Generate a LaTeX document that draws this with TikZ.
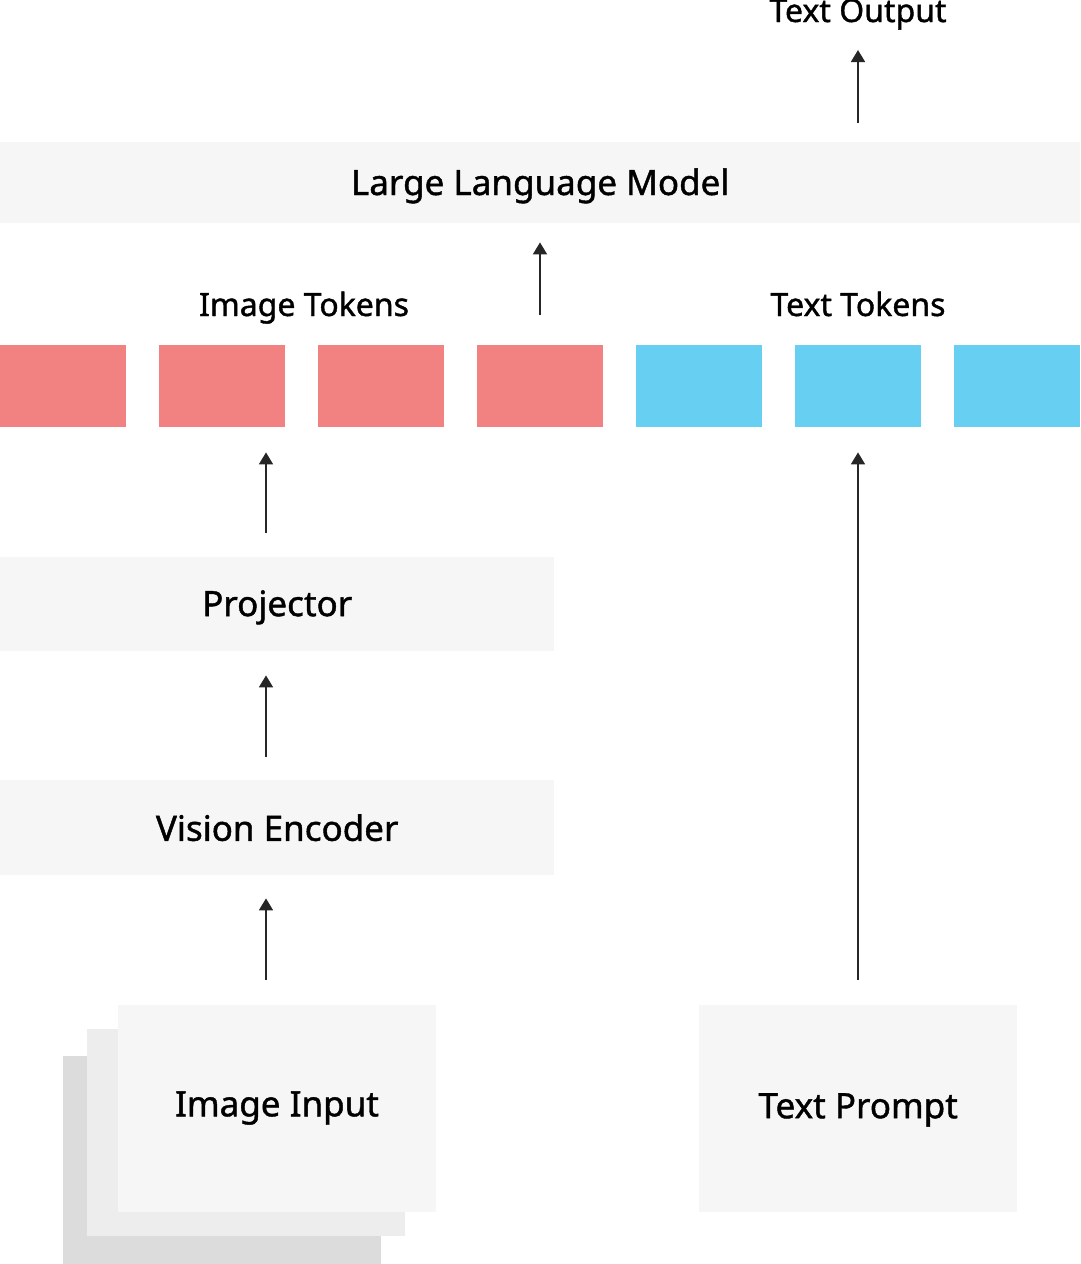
\documentclass[tikz,border=0pt]{standalone}
\usepackage{fontspec}
\setmainfont{Noto Sans}[RawFeature={embolden=1.2}]
\usetikzlibrary{arrows.meta}
\definecolor{boxgray}{HTML}{F6F6F6}
\definecolor{midgray}{HTML}{EDEDED}
\definecolor{backgray}{HTML}{DCDCDC}
\definecolor{tokred}{HTML}{F28181}
\definecolor{tokblue}{HTML}{66CFF2}
\tikzset{
  box/.style={fill=boxgray, draw=none, inner sep=0pt, anchor=north west, font=\fontsize{35}{40}\selectfont},
  lbl/.style={inner sep=0pt, anchor=base, font=\fontsize{32}{36}\selectfont},
  redtok/.style={fill=tokred, inner sep=0pt, anchor=north west, minimum width=126pt, minimum height=82pt},
  bluetok/.style={fill=tokblue, inner sep=0pt, anchor=north west, minimum width=126pt, minimum height=82pt},
  arr/.style={-{Triangle[length=12pt,width=14pt]}, line width=1.8pt, draw=black!85}
}
\begin{document}
\begin{tikzpicture}[x=1pt,y=-1pt]
\useasboundingbox (0,0) rectangle (1080,1264);
\fill[white] (0,0) rectangle (1080,1264);
% LLM
\node[box, minimum width=1080pt, minimum height=81pt, text depth=2pt] (llm) at (0,142) {Large Language Model};
\node[lbl] (out) at (858,22) {Text Output};
% tokens labels
\node[lbl] (itl) at (304,316) {Image Tokens};
\node[lbl] (ttl) at (858,316) {Text Tokens};
% tokens
\node[redtok] (r1) at (0,345) {};
\node[redtok] (r2) at (159,345) {};
\node[redtok] (r3) at (318,345) {};
\node[redtok] (r4) at (477,345) {};
\node[bluetok] (b1) at (636,345) {};
\node[bluetok] (b2) at (795,345) {};
\node[bluetok] (b3) at (954,345) {};
% projector, encoder
\node[box, minimum width=554pt, minimum height=94pt, text depth=2pt] (proj) at (0,557) {Projector};
\node[box, minimum width=554pt, minimum height=95pt] (venc) at (0,780) {Vision Encoder};
% image input stack
\fill[backgray] (63,1056) rectangle (381,1264);
\fill[midgray] (87,1029) rectangle (405,1236);
\node[box, minimum width=318pt, minimum height=207pt] (img) at (118,1005) {};
\node[font=\fontsize{35}{40}\selectfont, inner sep=0pt] (imgt) at (277,1108) {Image Input};
\node[box, minimum width=318pt, minimum height=207pt, text depth=6pt] (txt) at (699,1005) {Text Prompt};
% arrow x positions
\coordinate (ax) at (266,0);
\coordinate (bx) at (858,0);
\coordinate (cx) at (540,0);
% arrows
\draw[arr, shorten <=25pt, shorten >=23pt] (img.north -| ax) -- (venc.south -| ax);
\draw[arr, shorten <=23pt, shorten >=24pt] (venc.north -| ax) -- (proj.south -| ax);
\draw[arr, shorten <=24pt, shorten >=25pt] (proj.north -| ax) -- (r3.south -| ax);
\draw[arr, shorten <=25pt, shorten >=25pt] (txt.north -| bx) -- (b2.south -| bx);
\draw[arr, shorten <=30pt, shorten >=19pt] (r4.north -| cx) -- (llm.south -| cx);
\draw[arr, shorten <=19pt] (llm.north -| bx) -- (bx |- 0,50);
\end{tikzpicture}
\end{document}
